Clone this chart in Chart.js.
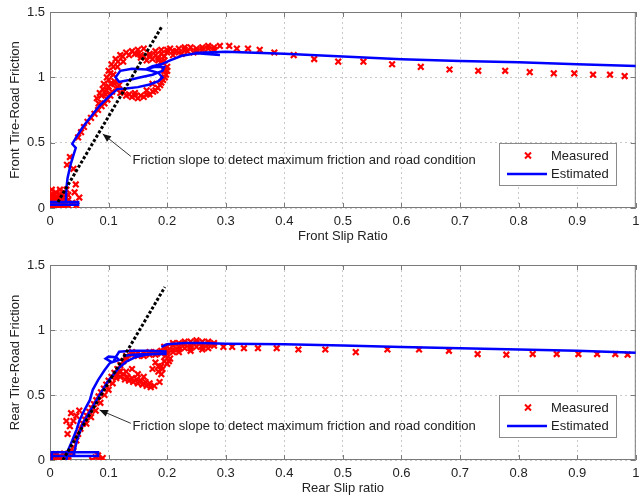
<!DOCTYPE html>
<html>
<head>
<meta charset="utf-8">
<script src="https://cdn.jsdelivr.net/npm/chart.js@4.4.1/dist/chart.umd.min.js"></script>
<style>
  html, body { margin: 0; padding: 0; background: #fff; overflow: hidden; }
  #wrap { position: relative; width: 641px; height: 497px; overflow: hidden; }
  canvas { position: absolute; left: 0; }
  #front { top: 0; }
  #rear { top: 250px; }
</style>
</head>
<body>
<div id="wrap">
  <canvas id="front" width="642" height="250"></canvas>
  <canvas id="rear" width="642" height="247"></canvas>
</div>
<script>
/* ---------- Data (slip ratio, friction) ---------- */
const xTicks = [0, 0.1, 0.2, 0.3, 0.4, 0.5, 0.6, 0.7, 0.8, 0.9, 1];
const yTicks = [0, 0.5, 1, 1.5];
const seriesNames = ["Measured", "Estimated"];
const noteText = "Friction slope to detect maximum friction and road condition";

// front tire, measured
const frontMeasured = [
  // start-up cloud
  [0.0,0.0],[0.0,0.08],[0.003,0.02],[0.003,0.06],[0.003,0.1],[0.003,0.14],[0.007,0.02],[0.007,0.06],
  [0.007,0.1],[0.01,0.0],[0.01,0.04],[0.01,0.08],[0.01,0.12],[0.014,0.0],[0.014,0.08],[0.017,0.02],
  [0.017,0.06],[0.017,0.1],[0.017,0.14],[0.021,0.02],[0.021,0.06],[0.021,0.1],[0.024,0.0],[0.024,0.04],
  [0.024,0.08],[0.024,0.12],[0.028,0.08],[0.028,0.14],[0.031,0.02],[0.031,0.06],[0.031,0.1],[0.038,0.04],
  [0.045,0.02],[0.042,0.12],[0.044,0.18],[0.05,0.08],
  // rising part
  [0.029,0.33],[0.034,0.39],[0.04,0.3],[0.048,0.54],[0.053,0.58],[0.058,0.62],[0.064,0.66],[0.07,0.69],
  [0.076,0.72],[0.082,0.75],[0.088,0.78],[0.093,0.8],[0.098,0.83],[0.103,0.86],
  [0.08,0.84],[0.085,0.88],[0.09,0.91],[0.095,0.87],[0.1,0.93],[0.106,0.89],[0.092,0.95],[0.11,0.95],
  [0.097,0.9],[0.088,0.86],[0.083,0.8],
  // ring
  [0.097,1.0],[0.1,1.05],[0.105,1.1],[0.112,1.14],[0.12,1.17],[0.13,1.19],[0.14,1.2],[0.15,1.21],
  [0.2,1.08],[0.198,1.02],[0.193,0.98],[0.188,0.94],[0.18,0.9],[0.17,0.87],[0.16,0.85],[0.15,0.84],
  [0.14,0.85],[0.13,0.86],[0.12,0.88],[0.114,0.91],[0.108,1.02],[0.115,1.08],[0.125,1.12],[0.175,0.95],
  [0.165,0.9],[0.145,0.88],[0.195,1.05],[0.19,1.12],
  [0.1,0.98],[0.103,1.03],[0.108,1.08],[0.116,1.12],[0.124,1.16],[0.135,1.17],[0.145,1.18],[0.155,1.17],
  [0.2,1.05],[0.196,1.0],[0.19,0.96],[0.184,0.92],[0.176,0.89],[0.165,0.87],[0.155,0.86],[0.145,0.86],
  [0.135,0.87],[0.125,0.89],[0.118,0.94],[0.11,0.97],[0.104,0.95],
  // top band
  [0.155,1.15],[0.165,1.13],[0.175,1.14],[0.185,1.15],[0.195,1.16],[0.17,1.18],[0.18,1.2],[0.19,1.21],
  [0.2,1.19],[0.205,1.22],[0.215,1.2],[0.22,1.22],[0.23,1.21],[0.24,1.23],[0.25,1.22],[0.26,1.23],
  [0.27,1.24],[0.28,1.23],[0.16,1.22],[0.21,1.17],[0.225,1.18],[0.235,1.2],[0.245,1.19],[0.29,1.24],
  [0.15,1.18],[0.16,1.16],[0.17,1.16],[0.18,1.17],[0.19,1.18],[0.2,1.21],[0.21,1.2],[0.22,1.19],
  [0.23,1.23],[0.25,1.2],[0.26,1.21],[0.27,1.22],[0.28,1.21],[0.185,1.13],[0.195,1.13],
  // sliding
  [0.306,1.24],[0.319,1.22],[0.338,1.22],[0.358,1.21],[0.383,1.19],[0.416,1.17],[0.451,1.14],[0.492,1.12],
  [0.535,1.12],[0.584,1.1],[0.633,1.08],[0.682,1.06],[0.731,1.05],[0.777,1.05],[0.819,1.04],[0.86,1.03],
  [0.895,1.03],[0.927,1.02],[0.956,1.02],[0.981,1.01]
];

// front tire, estimated (null = pen up)
const frontEstimated = [
  [0.0,0.025],[0.048,0.025],[0.048,0.045],[0.0,0.045],[null,null],
  [0.027,0.045],[0.028,0.15],[0.03,0.23],[0.035,0.33],[0.039,0.39],[0.044,0.46],[0.038,0.49],[0.046,0.55],
  [0.056,0.62],[0.07,0.7],[0.084,0.78],[0.1,0.85],[0.115,0.91],[0.13,0.915],[0.15,0.925],[0.17,0.945],
  [0.185,0.97],[0.192,1.0],[0.185,1.035],[0.165,1.06],[0.14,1.065],[0.12,1.05],[0.112,1.0],[0.118,0.965],
  [0.135,0.98],[0.155,1.0],[0.175,1.02],[0.192,1.05],[0.195,1.08],[0.18,1.08],[0.165,1.065],[0.175,1.085],
  [0.19,1.1],[0.205,1.13],[0.225,1.165],[0.25,1.185],[0.29,1.17],[0.265,1.19],[0.3,1.195],[0.4,1.18],
  [0.5,1.16],[0.6,1.138],[0.7,1.125],[0.8,1.115],[0.9,1.1],[1.0,1.087]
];

const frontSlope = [[0.0135,0.046],[0.191,1.39]];

// rear tire, measured
const rearMeasured = [
  // start-up cloud
  [0.003,0.0],[0.003,0.03],[0.01,0.01],[0.01,0.045],[0.017,0.0],[0.017,0.03],[0.024,0.015],[0.024,0.05],
  [0.031,0.0],[0.031,0.03],[0.038,0.06],[0.072,0.0],[0.078,0.02],[0.085,0.0],[0.09,0.015],[0.082,0.035],
  // rising part
  [0.035,0.06],[0.04,0.1],[0.045,0.15],[0.048,0.2],[0.052,0.24],[0.056,0.28],[0.06,0.31],[0.063,0.34],
  [0.067,0.37],[0.071,0.4],[0.075,0.43],[0.079,0.46],[0.083,0.49],[0.087,0.52],[0.092,0.55],[0.096,0.58],
  [0.1,0.61],[0.105,0.64],[0.11,0.67],[0.115,0.7],[0.12,0.73],[0.125,0.76],[0.13,0.78],
  [0.03,0.2],[0.034,0.26],[0.04,0.3],[0.036,0.36],[0.045,0.34],[0.028,0.3],[0.05,0.38],
  [0.062,0.28],[0.07,0.33],[0.078,0.38],[0.086,0.44],[0.093,0.5],[0.1,0.54],[0.107,0.59],[0.113,0.63],
  [0.12,0.68],
  // hook
  [0.115,0.66],[0.12,0.64],[0.128,0.62],[0.135,0.61],[0.142,0.6],[0.15,0.59],[0.158,0.58],[0.165,0.57],
  [0.172,0.56],[0.187,0.6],[0.185,0.68],[0.19,0.72],[0.195,0.76],[0.185,0.72],[0.2,0.74],[0.205,0.78],
  [0.14,0.7],[0.15,0.66],[0.16,0.64],[0.13,0.68],[0.19,0.66],
  [0.118,0.68],[0.125,0.66],[0.132,0.64],[0.14,0.63],[0.148,0.62],[0.155,0.61],[0.163,0.6],[0.17,0.59],
  [0.178,0.57],[0.192,0.7],[0.197,0.8],[0.203,0.76],[0.18,0.75],[0.175,0.7],
  // top band
  [0.13,0.8],[0.14,0.81],[0.15,0.8],[0.16,0.82],[0.17,0.81],[0.18,0.83],[0.19,0.82],[0.2,0.84],
  [0.195,0.87],[0.21,0.88],[0.22,0.9],[0.23,0.89],[0.24,0.91],[0.25,0.9],[0.26,0.91],[0.27,0.89],
  [0.28,0.88],[0.21,0.85],[0.23,0.86],[0.25,0.87],[0.27,0.86],[0.22,0.83],[0.24,0.84],[0.26,0.85],
  [0.14,0.83],[0.15,0.82],[0.16,0.8],[0.17,0.83],[0.18,0.81],[0.19,0.84],[0.2,0.87],[0.21,0.9],
  [0.22,0.87],[0.23,0.91],[0.24,0.88],[0.25,0.92],[0.26,0.88],[0.27,0.91],[0.2,0.82],[0.21,0.83],
  [0.22,0.85],[0.24,0.86],[0.26,0.87],[0.28,0.9],
  // sliding
  [0.296,0.87],[0.311,0.87],[0.331,0.86],[0.355,0.86],[0.387,0.86],[0.424,0.85],[0.47,0.85],[0.522,0.83],
  [0.576,0.85],[0.63,0.85],[0.681,0.84],[0.73,0.815],[0.779,0.81],[0.824,0.815],[0.865,0.815],[0.902,0.815],
  [0.934,0.815],[0.965,0.815],[0.986,0.81]
];

// rear tire, estimated (null = pen up)
const rearEstimated = [
  [0.003,0.0],[0.003,0.06],[0.082,0.06],[0.082,0.03],[0.003,0.03],[null,null],
  [0.028,0.0],[0.031,0.077],[0.038,0.15],[0.045,0.23],[0.05,0.3],[0.056,0.36],[0.062,0.41],[0.068,0.46],
  [0.073,0.54],[0.082,0.615],[0.093,0.69],[0.104,0.756],[0.095,0.78],[0.1,0.795],[0.113,0.79],[0.118,0.77],
  [0.108,0.755],[0.112,0.79],[0.118,0.833],[0.14,0.84],[0.17,0.84],[0.197,0.835],[0.197,0.815],[0.17,0.815],
  [0.14,0.81],[0.125,0.8],[null,null],
  [0.04,0.03],[0.046,0.15],[0.056,0.28],[0.065,0.35],[0.073,0.41],[0.082,0.48],[0.09,0.54],[0.098,0.6],
  [0.107,0.65],[0.118,0.71],[0.13,0.756],[0.145,0.79],[0.163,0.81],[0.197,0.82],[null,null],
  [0.19,0.87],[0.2,0.89],[0.23,0.9],[0.26,0.9],[0.3,0.895],[0.4,0.89],[0.5,0.88],[0.6,0.87],
  [0.7,0.86],[0.8,0.85],[0.9,0.84],[1.0,0.825]
];

const rearSlope = [[0.022,0.0],[0.196,1.33]];

/* ---------- Helpers ---------- */
const FONT = "'Liberation Sans', Arial, Helvetica, sans-serif";
Chart.defaults.font.family = FONT;
Chart.defaults.font.size = 13;
Chart.defaults.color = "#222";

const toPoints = arr => arr.map(p => ({ x: p[0], y: p[1] }));

// box, inward ticks, arrow note and legend (MATLAB look)
const matlabFrame = {
  id: "matlabFrame",
  beforeDatasetsDraw(chart) {
    const { ctx, chartArea: a, scales: { x, y } } = chart;
    ctx.save();
    ctx.strokeStyle = "#7a7a7a";
    ctx.lineWidth = 1;
    ctx.strokeRect(a.left + 0.5, a.top + 0.5, a.right - a.left - 1, a.bottom - a.top - 1);
    ctx.beginPath();
    xTicks.forEach(v => {
      const px = Math.round(x.getPixelForValue(v)) + 0.5;
      ctx.moveTo(px, a.bottom); ctx.lineTo(px, a.bottom - 5);
      ctx.moveTo(px, a.top); ctx.lineTo(px, a.top + 5);
    });
    yTicks.forEach(v => {
      const py = Math.round(y.getPixelForValue(v)) + 0.5;
      ctx.moveTo(a.left, py); ctx.lineTo(a.left + 5, py);
      ctx.moveTo(a.right, py); ctx.lineTo(a.right - 5, py);
    });
    ctx.stroke();
    ctx.restore();
  },
  afterDraw(chart, args, opts) {
    const { ctx, scales: { x, y } } = chart;
    ctx.save();

    // arrow note
    const tipX = x.getPixelForValue(opts.tip[0]), tipY = y.getPixelForValue(opts.tip[1]);
    const tailX = x.getPixelForValue(opts.tail[0]), tailY = y.getPixelForValue(opts.tail[1]);
    ctx.strokeStyle = "#333";
    ctx.lineWidth = 1;
    ctx.beginPath();
    ctx.moveTo(tailX, tailY);
    ctx.lineTo(tipX, tipY);
    ctx.stroke();
    const ang = Math.atan2(tipY - tailY, tipX - tailX);
    ctx.fillStyle = "#111";
    ctx.beginPath();
    ctx.moveTo(tipX, tipY);
    ctx.lineTo(tipX - 9 * Math.cos(ang - 0.4), tipY - 9 * Math.sin(ang - 0.4));
    ctx.lineTo(tipX - 9 * Math.cos(ang + 0.4), tipY - 9 * Math.sin(ang + 0.4));
    ctx.closePath();
    ctx.fill();

    ctx.font = "13px " + FONT;
    ctx.fillStyle = "#222";
    ctx.textBaseline = "middle";
    ctx.textAlign = "left";
    ctx.fillText(noteText, x.getPixelForValue(opts.textAt[0]), y.getPixelForValue(opts.textAt[1]));

    // legend box
    const L = opts.legend;
    ctx.fillStyle = "#fff";
    ctx.fillRect(L.x, L.y, L.w, L.h);
    ctx.strokeStyle = "#8a8a8a";
    ctx.strokeRect(L.x + 0.5, L.y + 0.5, L.w - 1, L.h - 1);

    const mx = L.x + 29, my = L.y + 12.5;
    ctx.strokeStyle = "#ff0000";
    ctx.lineWidth = 2;
    ctx.beginPath();
    ctx.moveTo(mx - 3, my - 3); ctx.lineTo(mx + 3, my + 3);
    ctx.moveTo(mx - 3, my + 3); ctx.lineTo(mx + 3, my - 3);
    ctx.stroke();

    ctx.strokeStyle = "#0000ff";
    ctx.lineWidth = 2.5;
    ctx.beginPath();
    ctx.moveTo(L.x + 8, L.y + 31);
    ctx.lineTo(L.x + 48, L.y + 31);
    ctx.stroke();

    ctx.fillStyle = "#222";
    ctx.fillText(seriesNames[0], L.x + 52, L.y + 13);
    ctx.fillText(seriesNames[1], L.x + 52, L.y + 31);
    ctx.restore();
  }
};

/* ---------- Build one panel ---------- */
function makePanel(id, cfg) {
  const ctx = document.getElementById(id).getContext("2d");
  return new Chart(ctx, {
    type: "scatter",
    data: {
      datasets: [
        {
          label: "slope",
          data: toPoints(cfg.slope),
          showLine: true,
          borderColor: "#000",
          borderWidth: 3,
          borderDash: [3, 2],
          pointRadius: 0,
          order: 0
        },
        {
          label: seriesNames[1],
          data: toPoints(cfg.estimated),
          showLine: true,
          spanGaps: false,
          borderColor: "#0000ff",
          borderWidth: 2.5,
          pointRadius: 0,
          tension: 0,
          order: 1
        },
        {
          label: seriesNames[0],
          data: toPoints(cfg.measured),
          showLine: false,
          pointStyle: "crossRot",
          pointRadius: 4,
          borderWidth: 2.2,
          borderColor: "#ff0000",
          backgroundColor: "#ff0000",
          order: 2
        }
      ]
    },
    options: {
      responsive: false,
      animation: false,
      events: [],
      layout: { padding: { top: cfg.padTop, right: 0, left: 0, bottom: 0 } },
      plugins: {
        legend: { display: false },
        tooltip: { enabled: false },
        matlabFrame: cfg.note
      },
      scales: {
        x: {
          type: "linear",
          min: 0, max: 1,
          afterBuildTicks: s => { s.ticks = xTicks.map(v => ({ value: v })); },
          afterFit: s => { s.height = cfg.xHeight; s.paddingLeft = 0; s.paddingRight = 0; },
          ticks: { padding: 6, maxRotation: 0, autoSkip: false, color: "#222", callback: v => String(v) },
          grid: { color: "#c9c9c9", lineWidth: 1, drawTicks: false },
          border: { display: false, dash: [2, 3] },
          title: { display: true, text: cfg.xTitle, color: "#222", padding: { top: 0, bottom: cfg.xTitlePad } }
        },
        y: {
          type: "linear",
          min: 0, max: 1.5,
          afterBuildTicks: s => { s.ticks = yTicks.map(v => ({ value: v })); },
          afterFit: s => { s.width = 50; s.paddingTop = 0; s.paddingBottom = 0; },
          ticks: { padding: 5, color: "#222", callback: v => String(v) },
          grid: { color: "#c9c9c9", lineWidth: 1, drawTicks: false },
          border: { display: false, dash: [2, 3] },
          title: { display: true, text: cfg.yTitle, color: "#222", padding: { top: 8, bottom: 0 } }
        }
      }
    },
    plugins: [matlabFrame]
  });
}

makePanel("front", {
  measured: frontMeasured,
  estimated: frontEstimated,
  slope: frontSlope,
  padTop: 12,
  xHeight: 42,
  xTitle: "Front Slip Ratio",
  xTitlePad: 6,
  yTitle: "Front Tire-Road Friction",
  note: {
    tip: [0.09, 0.567], tail: [0.138, 0.395], textAt: [0.141, 0.362],
    legend: { x: 499, y: 143, w: 118, h: 43 }
  }
});

makePanel("rear", {
  measured: rearMeasured,
  estimated: rearEstimated,
  slope: rearSlope,
  padTop: 15,
  xHeight: 37,
  xTitle: "Rear Slip ratio",
  xTitlePad: 1,
  yTitle: "Rear Tire-Road Friction",
  note: {
    tip: [0.0845, 0.385], tail: [0.138, 0.282], textAt: [0.141, 0.256],
    legend: { x: 499, y: 145, w: 118, h: 43 }
  }
});
</script>
</body>
</html>
